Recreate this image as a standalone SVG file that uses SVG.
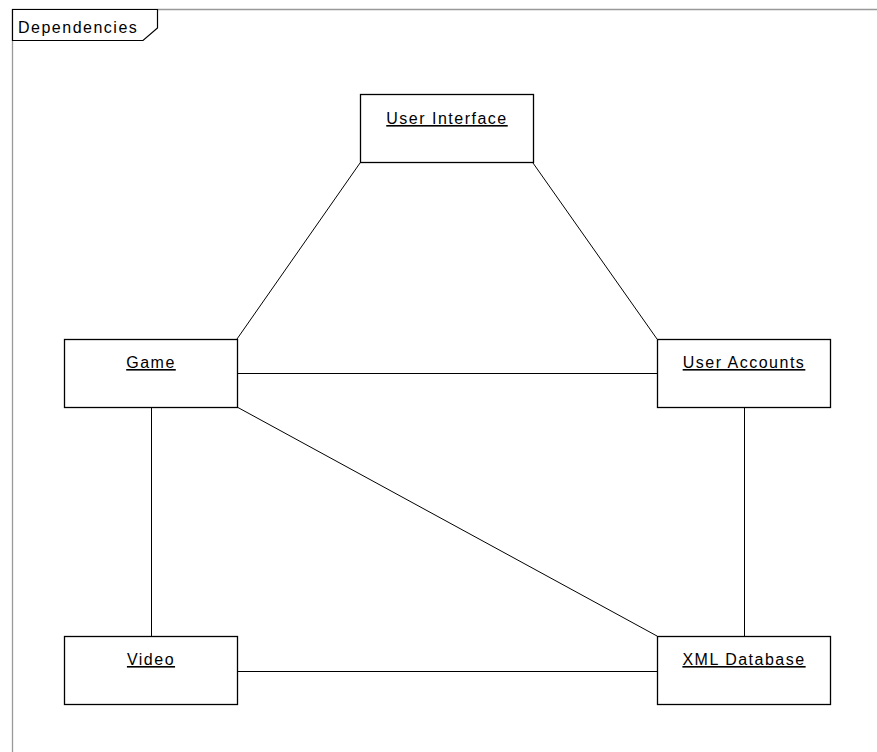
<svg xmlns="http://www.w3.org/2000/svg" width="877" height="752" viewBox="0 0 877 752">
<style>
.node rect{fill:#fff;stroke:#000;stroke-width:1.3}
.lbl{font-family:"Liberation Sans",Arial,sans-serif;font-size:16px;letter-spacing:1.5px;fill:#000}
.nl{text-anchor:middle;text-decoration:underline}
#connectors line{stroke:#000;stroke-width:1}
.frame{stroke:#999;stroke-width:1.3;fill:none}
</style>
<rect width="877" height="752" fill="#fff"/>
<g id="frame">
<path class="frame" d="M12.5,752 V9.5 H877"/>
<path d="M12.5,9.5 H157.5 V28 L143,40.5 H12.5 Z" fill="#fff" stroke="#000" stroke-width="1.2"/>
<text class="lbl" x="18" y="33">Dependencies</text>
</g>
<g id="connectors">
<line x1="360" y1="163" x2="237" y2="339"/>
<line x1="533" y1="163" x2="657" y2="339"/>
<line x1="237" y1="373.5" x2="657" y2="373.5"/>
<line x1="237" y1="407" x2="657" y2="636"/>
<line x1="151.5" y1="407" x2="151.5" y2="636"/>
<line x1="744.5" y1="407" x2="744.5" y2="636"/>
<line x1="237" y1="671.5" x2="657" y2="671.5"/>
</g>
<g id="user-interface" class="node">
<rect x="360.5" y="94.5" width="173" height="68"/>
<text class="lbl nl" x="447" y="124">User Interface</text>
</g>
<g id="game" class="node">
<rect x="64.5" y="339.5" width="173" height="68"/>
<text class="lbl nl" x="151" y="368">Game</text>
</g>
<g id="user-accounts" class="node">
<rect x="657.5" y="339.5" width="173" height="68"/>
<text class="lbl nl" x="744" y="368">User Accounts</text>
</g>
<g id="video" class="node">
<rect x="64.5" y="636.5" width="173" height="68"/>
<text class="lbl nl" x="151" y="665">Video</text>
</g>
<g id="xml-database" class="node">
<rect x="657.5" y="636.5" width="173" height="68"/>
<text class="lbl nl" x="744" y="665">XML Database</text>
</g>
</svg>
